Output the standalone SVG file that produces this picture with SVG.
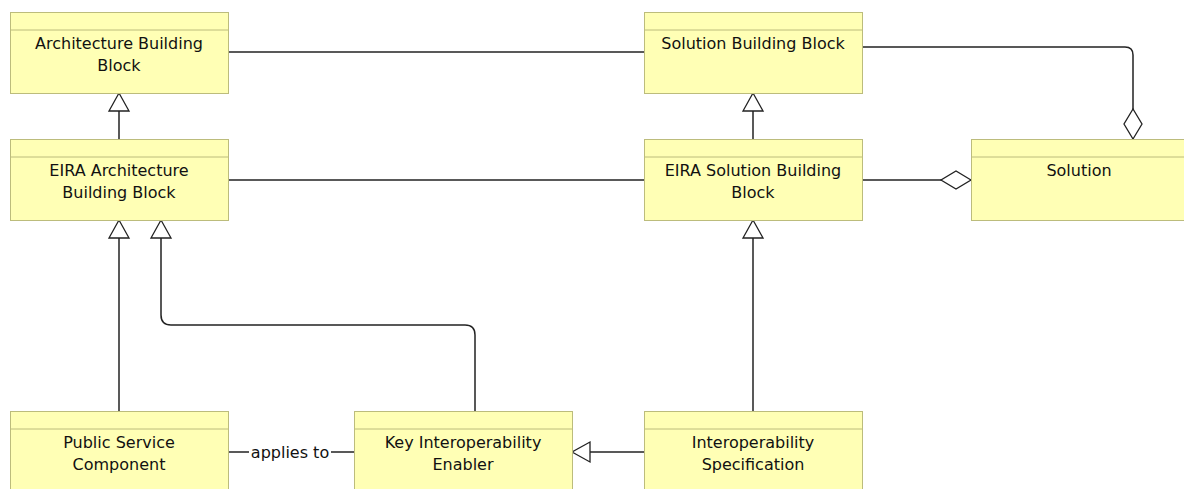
<svg xmlns="http://www.w3.org/2000/svg" width="1184" height="489" viewBox="0 0 1184 489">
  <style>
    .box { fill: #ffffb5; stroke: #bcbc7c; stroke-width: 1; }
    .hdr { stroke: #bcbc7c; stroke-width: 1; }
    .lbl { font-family: "DejaVu Sans", "Noto Sans", sans-serif; font-size: 16px; fill: #111; text-anchor: middle; }
    .edge { fill: none; stroke: #222; stroke-width: 1.5; }
    .elbl { font-family: "DejaVu Sans", "Noto Sans", sans-serif; font-size: 16px; fill: #111; text-anchor: middle; }
  </style>
  <defs>
    <!-- hollow triangle: tip on the path end, body trailing back along the line -->
    <marker id="gen" markerUnits="userSpaceOnUse" markerWidth="24" markerHeight="24" viewBox="-21 -12 24 24" refX="0" refY="0" orient="auto">
      <path d="M0,0 L-18,-10 L-18,10 Z" fill="#fff" stroke="#222" stroke-width="1.3"/>
    </marker>
    <!-- hollow diamond for aggregation -->
    <marker id="agg" markerUnits="userSpaceOnUse" markerWidth="34" markerHeight="24" viewBox="-32 -12 34 24" refX="0" refY="0" orient="auto">
      <path d="M0,0 L-15,-9 L-30,0 L-15,9 Z" fill="#fff" stroke="#222" stroke-width="1.3"/>
    </marker>
  </defs>
  <rect width="1184" height="489" fill="#fff"/>

  <g id="connectors">
    <path class="edge" d="M228,52 H644"/>
    <path class="edge" d="M228,180 H644"/>
    <path class="edge" d="M862,47 H1125 Q1133,47 1133,55 V139" marker-end="url(#agg)"/>
    <path class="edge" d="M862,180 H971" marker-end="url(#agg)"/>
    <path class="edge" d="M119,139 V93" marker-end="url(#gen)"/>
    <path class="edge" d="M753,139 V93" marker-end="url(#gen)"/>
    <path class="edge" d="M119,411 V220" marker-end="url(#gen)"/>
    <path class="edge" d="M475,411 V335 Q475,325 465,325 H171 Q161,325 161,315 V220" marker-end="url(#gen)"/>
    <path class="edge" d="M753,411 V220" marker-end="url(#gen)"/>
    <path class="edge" d="M644,452 H572" marker-end="url(#gen)"/>
    <path class="edge" d="M228,452 H354"/>
    <rect x="249" y="442" width="82" height="20" fill="#fff"/>
    <text class="elbl" x="290" y="458">applies to</text>
  </g>

  <g id="architecture-building-block">
    <rect class="box" x="10.5" y="12.5" width="218" height="81"/>
    <line class="hdr" x1="10.5" y1="30" x2="228.5" y2="30"/>
    <text class="lbl" x="119" y="49">Architecture Building</text>
    <text class="lbl" x="119" y="71">Block</text>
  </g>

  <g id="solution-building-block">
    <rect class="box" x="644.5" y="12.5" width="218" height="81"/>
    <line class="hdr" x1="644.5" y1="30" x2="862.5" y2="30"/>
    <text class="lbl" x="753" y="49">Solution Building Block</text>
  </g>

  <g id="eira-architecture-building-block">
    <rect class="box" x="10.5" y="139.5" width="218" height="81"/>
    <line class="hdr" x1="10.5" y1="157" x2="228.5" y2="157"/>
    <text class="lbl" x="119" y="176">EIRA Architecture</text>
    <text class="lbl" x="119" y="198">Building Block</text>
  </g>

  <g id="eira-solution-building-block">
    <rect class="box" x="644.5" y="139.5" width="218" height="81"/>
    <line class="hdr" x1="644.5" y1="157" x2="862.5" y2="157"/>
    <text class="lbl" x="753" y="176">EIRA Solution Building</text>
    <text class="lbl" x="753" y="198">Block</text>
  </g>

  <g id="solution">
    <rect class="box" x="971.5" y="139.5" width="218" height="81"/>
    <line class="hdr" x1="971.5" y1="157" x2="1189.5" y2="157"/>
    <text class="lbl" x="1079" y="176">Solution</text>
  </g>

  <g id="public-service-component">
    <rect class="box" x="10.5" y="411.5" width="218" height="81"/>
    <line class="hdr" x1="10.5" y1="429" x2="228.5" y2="429"/>
    <text class="lbl" x="119" y="448">Public Service</text>
    <text class="lbl" x="119" y="470">Component</text>
  </g>

  <g id="key-interoperability-enabler">
    <rect class="box" x="354.5" y="411.5" width="218" height="81"/>
    <line class="hdr" x1="354.5" y1="429" x2="572.5" y2="429"/>
    <text class="lbl" x="463" y="448">Key Interoperability</text>
    <text class="lbl" x="463" y="470">Enabler</text>
  </g>

  <g id="interoperability-specification">
    <rect class="box" x="644.5" y="411.5" width="218" height="81"/>
    <line class="hdr" x1="644.5" y1="429" x2="862.5" y2="429"/>
    <text class="lbl" x="753" y="448">Interoperability</text>
    <text class="lbl" x="753" y="470">Specification</text>
  </g>
</svg>
